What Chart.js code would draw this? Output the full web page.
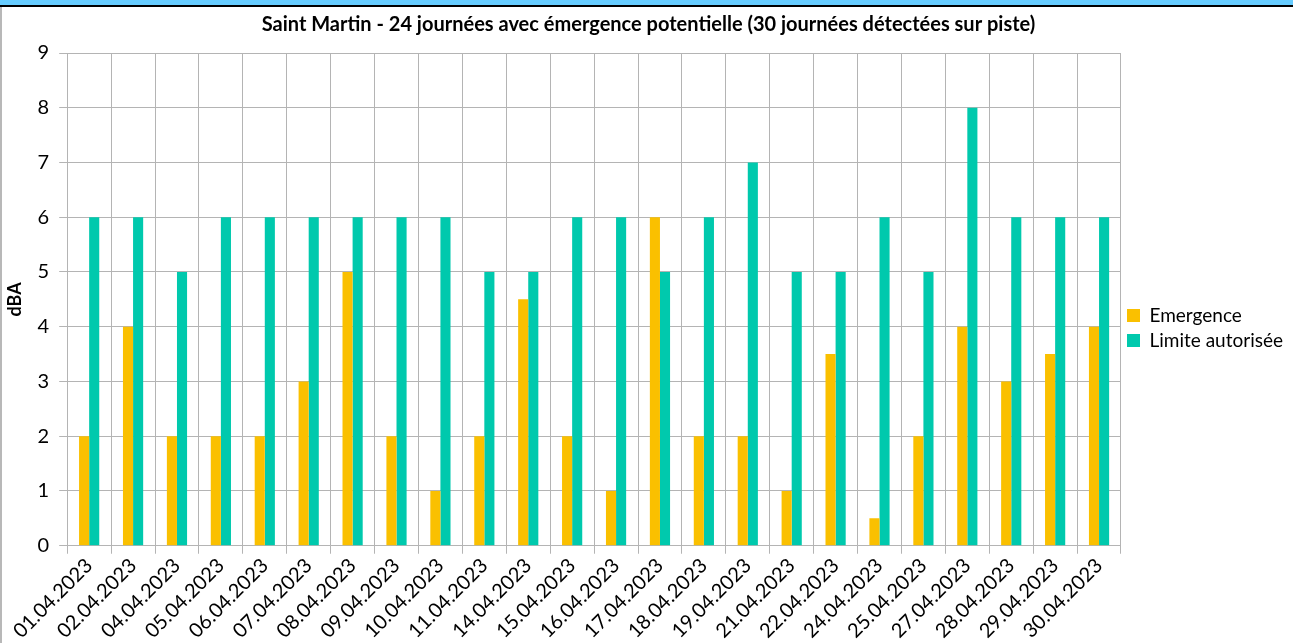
<!DOCTYPE html>
<html>
<head>
<meta charset="utf-8">
<script src="https://cdn.jsdelivr.net/npm/chart.js@4/dist/chart.umd.min.js"></script>
<style>
  body { margin: 0; background: #fff; overflow: hidden; }
  #band { position: absolute; left: 0; top: 0; width: 1293px; height: 5px; background: #66ccff; border-bottom: 2px solid #000; }
  #wrap { position: absolute; left: 0; top: 7px; width: 1293px; height: 636px; border-left: 2px solid #b8b8b8; box-sizing: border-box; overflow: hidden; }
  canvas { display: block; }
</style>
</head>
<body>
<div id="band"></div>
<div id="wrap"><canvas id="myChart" width="1291" height="636"></canvas></div>
<script>
const ctx = document.getElementById('myChart');

var dates = ['01.04.2023', '02.04.2023', '04.04.2023', '05.04.2023', '06.04.2023', '07.04.2023',
    '08.04.2023', '09.04.2023', '10.04.2023', '11.04.2023', '14.04.2023', '15.04.2023',
    '16.04.2023', '17.04.2023', '18.04.2023', '19.04.2023', '21.04.2023', '22.04.2023',
    '24.04.2023', '25.04.2023', '27.04.2023', '28.04.2023', '29.04.2023', '30.04.2023'];
var emergence = [2, 4, 2, 2, 2, 3, 5, 2, 1, 2, 4.5, 2, 1, 6, 2, 2, 1, 3.5, 0.5, 2, 4, 3, 3.5, 4];
var limite = [6, 6, 5, 6, 6, 6, 6, 6, 6, 5, 5, 6, 6, 5, 6, 7, 5, 5, 6, 5, 8, 6, 6, 6];
var yTicks = [0, 1, 2, 3, 4, 5, 6, 7, 8, 9];

Chart.defaults.font.family = 'Lato, "Open Sans", sans-serif';
Chart.defaults.color = '#000';

const myChart = new Chart(ctx, {
    type: 'bar',
    data: {
        labels: dates,
        datasets: [{
            label: 'Emergence',
            data: emergence,
            backgroundColor: '#fac000',
            barPercentage: 1,
            categoryPercentage: 0.46
        }, {
            label: 'Limite autorisée',
            data: limite,
            backgroundColor: '#00c9ad',
            barPercentage: 1,
            categoryPercentage: 0.46
        }]
    },
    options: {
        responsive: false,
        animation: false,
        layout: { padding: { top: 6, right: 0, left: 2, bottom: 0 } },
        plugins: {
            title: {
                display: true,
                text: 'Saint Martin - 24 journées avec émergence potentielle (30 journées détectées sur piste)',
                font: { size: 20, weight: 'bold' },
                padding: { top: 0, bottom: 16 }
            },
            legend: {
                position: 'right',
                labels: {
                    font: { size: 19 },
                    boxWidth: 13,
                    boxHeight: 13,
                    padding: 6
                }
            },
            tooltip: { enabled: false }
        },
        scales: {
            x: {
                grid: { color: '#b4b4b4', tickLength: 8, offset: true },
                border: { color: '#b4b4b4' },
                ticks: { font: { size: 20 }, minRotation: 45, maxRotation: 45, padding: 0, autoSkip: false }
            },
            y: {
                min: 0,
                max: 9,
                afterBuildTicks: function (axis) { axis.ticks = yTicks.map(function (v) { return { value: v }; }); },
                grid: { color: '#b4b4b4', tickLength: 8 },
                border: { display: false },
                ticks: { font: { size: 20 }, padding: 10 },
                title: { display: true, text: 'dBA', font: { size: 18, weight: 'bold' }, padding: { top: 0, bottom: 2 } }
            }
        }
    }
});
</script>
</body>
</html>
